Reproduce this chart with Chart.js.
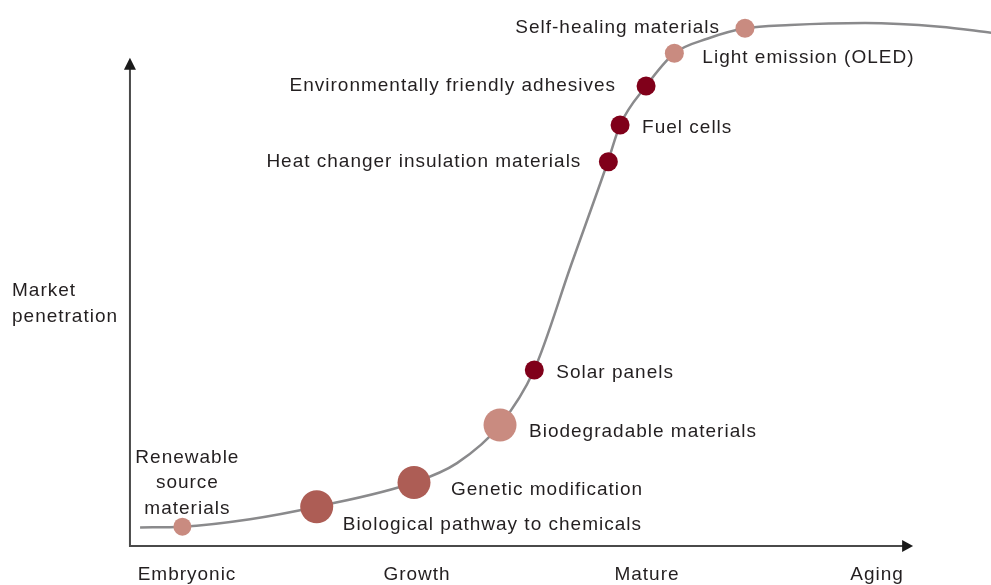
<!DOCTYPE html>
<html>
<head>
<meta charset="utf-8">
<script src="https://cdn.jsdelivr.net/npm/chart.js@4.4.1/dist/chart.umd.min.js"></script>
<style>
  body { margin: 0; background: #fff; }
  #wrap { width: 991px; height: 585px; }
</style>
</head>
<body>
<div id="wrap"><canvas id="myChart" width="991" height="585"></canvas></div>
<script>
// x = life cycle stage (1 Embryonic .. 4 Aging), y = market penetration (%)
const stages = ['Embryonic', 'Growth', 'Mature', 'Aging'];
const curveX = [0.796, 0.978, 1.274, 1.564, 1.987, 2.174, 2.361, 2.509, 2.670, 2.830, 2.883, 2.996, 3.119, 3.265, 3.426, 3.622, 3.948, 4.274, 4.496];
const curveY = [3.52, 3.67, 5.10, 7.47, 12.07, 15.76, 23.00, 33.46, 53.42, 73.10, 80.04, 87.45, 93.67, 96.48, 98.42, 99.05, 99.43, 98.73, 97.59];

const techNames = [
  ['Renewable', 'source', 'materials'],
  ['Biological pathway to chemicals'],
  ['Genetic modification'],
  ['Biodegradable materials'],
  ['Solar panels'],
  ['Heat changer insulation materials'],
  ['Fuel cells'],
  ['Environmentally friendly adhesives'],
  ['Light emission (OLED)'],
  ['Self-healing materials']
];
const techX = [0.980, 1.564, 1.987, 2.361, 2.510, 2.832, 2.883, 2.996, 3.119, 3.426];
const techY = [3.67, 7.47, 12.07, 23.00, 33.46, 73.06, 80.04, 87.45, 93.67, 98.42];
const techSize = [9, 16.5, 16.5, 16.5, 9.5, 9.5, 9.5, 9.5, 9.5, 9.5];
const techGroup = ['light', 'mid', 'mid', 'light', 'dark', 'dark', 'dark', 'dark', 'light', 'light'];

// styling
const groupColors = { light: '#c98b80', mid: '#ad5d55', dark: '#80001a' };
// label offsets from bubble centre: [dx, dy, align]
const labelPos = [
  [5, -69, 'center'], [26, 18, 'left'], [37, 7, 'left'], [29, 7, 'left'], [22, 3, 'left'],
  [-27, 0, 'right'], [22, 3, 'left'], [-30, 0, 'right'], [28, 4, 'left'], [-25, -1, 'right']
];
const textColor = '#231f20';
const font = '19px "Liberation Sans", Arial, sans-serif';
const axisEndX = 4.157, axisStartX = 0.752, axisEndY = 92.8;

const annotate = {
  id: 'annotate',
  beforeDatasetsDraw(chart) {
    const ctx = chart.ctx, xs = chart.scales.x, ys = chart.scales.y;
    const ox = xs.getPixelForValue(axisStartX), oy = ys.getPixelForValue(0);
    const ex = xs.getPixelForValue(axisEndX), ey = ys.getPixelForValue(axisEndY);
    ctx.save();
    ctx.strokeStyle = '#4a4a4a';
    ctx.fillStyle = '#1a1a1a';
    ctx.lineWidth = 2;
    ctx.beginPath();
    ctx.moveTo(ox, ey + 10);
    ctx.lineTo(ox, oy);
    ctx.lineTo(ex - 10, oy);
    ctx.stroke();
    ctx.beginPath();
    ctx.moveTo(ox, ey); ctx.lineTo(ox - 6, ey + 12); ctx.lineTo(ox + 6, ey + 12); ctx.closePath();
    ctx.fill();
    ctx.beginPath();
    ctx.moveTo(ex, oy); ctx.lineTo(ex - 11, oy - 6); ctx.lineTo(ex - 11, oy + 6); ctx.closePath();
    ctx.fill();
    ctx.restore();
  },
  afterDatasetsDraw(chart) {
    const ctx = chart.ctx, xs = chart.scales.x, ys = chart.scales.y;
    ctx.save();
    ctx.font = font;
    ctx.letterSpacing = '1px';
    ctx.fillStyle = textColor;
    ctx.textBaseline = 'middle';
    // stage labels
    ctx.textAlign = 'center';
    const oy = ys.getPixelForValue(0);
    stages.forEach((s, i) => ctx.fillText(s, xs.getPixelForValue(i + 1), oy + 29));
    // y axis title
    ctx.textAlign = 'left';
    ctx.fillText('Market', 12, 291);
    ctx.fillText('penetration', 12, 317);
    // technology labels
    techNames.forEach((lines, i) => {
      const px = xs.getPixelForValue(techX[i]) + labelPos[i][0];
      const py = ys.getPixelForValue(techY[i]) + labelPos[i][1];
      ctx.textAlign = labelPos[i][2];
      lines.forEach((t, j) => ctx.fillText(t, px, py + j * 25.5));
    });
    ctx.restore();
  }
};

new Chart(document.getElementById('myChart'), {
  data: {
    datasets: [
      {
        type: 'bubble',
        data: techX.map((x, i) => ({ x: x, y: techY[i], r: techSize[i] })),
        backgroundColor: techGroup.map(g => groupColors[g]),
        borderWidth: 0,
        hoverBorderWidth: 0
      },
      {
        type: 'line',
        data: curveX.map((x, i) => ({ x: x, y: curveY[i] })),
        borderColor: '#8a8a8c',
        borderWidth: 2.5,
        pointRadius: 0,
        cubicInterpolationMode: 'monotone',
        fill: false
      }
    ]
  },
  options: {
    responsive: false,
    animation: false,
    devicePixelRatio: 1,
    layout: { padding: 0, autoPadding: false },
    plugins: { legend: { display: false }, tooltip: { enabled: false } },
    scales: {
      x: { type: 'linear', min: 1 - 187 / 230, max: 1 + 804 / 230, display: false },
      y: { type: 'linear', min: -39 / 5.26, max: 546 / 5.26, display: false }
    }
  },
  plugins: [annotate]
});
</script>
</body>
</html>
